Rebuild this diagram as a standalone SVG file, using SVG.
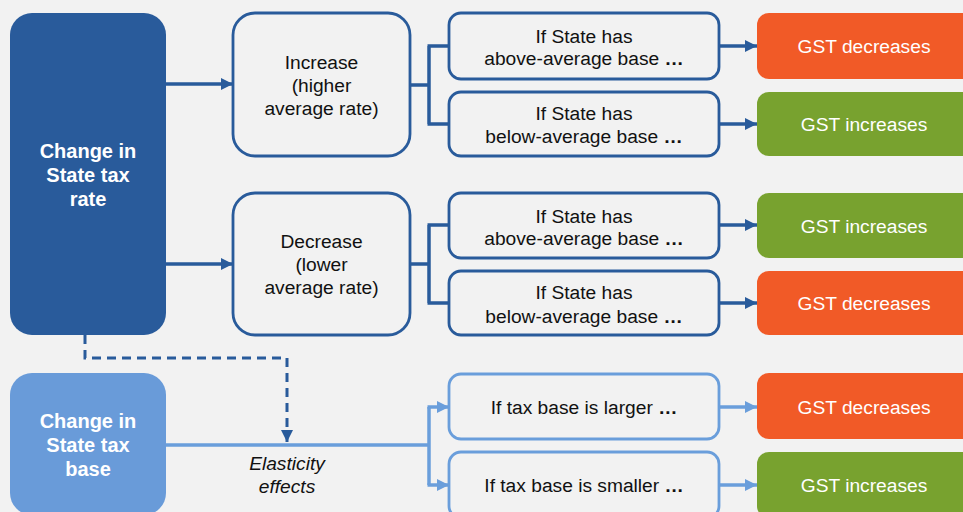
<svg xmlns="http://www.w3.org/2000/svg" width="963" height="512" viewBox="0 0 963 512">
<defs>
<style>
text{font-family:"Liberation Sans",Arial,sans-serif;font-size:19.2px;text-anchor:middle}
.head{fill:#fff;font-weight:bold;font-size:20px}
.dk{fill:#111}
.wt{fill:#fff}
.it{font-style:italic;fill:#111}
.dots{font-weight:bold}
.darkbox{fill:#f2f2f2;stroke:#295b9b;stroke-width:2.8}
.lightbox{fill:#f2f2f2;stroke:#6a9edb;stroke-width:2.8}
.dline{fill:none;stroke:#295b9b;stroke-width:3.5}
.lline{fill:none;stroke:#6a9edb;stroke-width:3.5}
.orange{fill:#f15a27}
.green{fill:#78a22f}
</style>
<marker id="ad" markerUnits="userSpaceOnUse" markerWidth="13" markerHeight="13" refX="12" refY="6" orient="auto" viewBox="0 0 13 13">
<path d="M0,0 L12,6 L0,12 z" fill="#295b9b"/>
</marker>
<marker id="al" markerUnits="userSpaceOnUse" markerWidth="13" markerHeight="13" refX="12" refY="6" orient="auto" viewBox="0 0 13 13">
<path d="M0,0 L12,6 L0,12 z" fill="#6a9edb"/>
</marker>
</defs>
<rect width="963" height="512" fill="#f2f2f2"/>

<g id="connectors">
<path class="dline" d="M166,84 H233" marker-end="url(#ad)"/>
<path class="dline" d="M166,264 H233" marker-end="url(#ad)"/>
<path class="dline" d="M410,85 H429 M429,46 V124 M427.5,46 H449 M427.5,124 H449"/>
<path class="dline" d="M410,264 H429 M429,225 V303 M427.5,225 H449 M427.5,303 H449"/>
<path class="dline" d="M719,46 H757" marker-end="url(#ad)"/>
<path class="dline" d="M719,124 H757" marker-end="url(#ad)"/>
<path class="dline" d="M719,225 H757" marker-end="url(#ad)"/>
<path class="dline" d="M719,303 H757" marker-end="url(#ad)"/>
<path class="dline" d="M85,335 V358 H287 V442" stroke-dasharray="9,6" marker-end="url(#ad)" style="stroke-width:3"/>
<path class="lline" d="M166,445 H429 M429,407 V485"/>
<path class="lline" d="M427.5,407 H449" marker-end="url(#al)"/>
<path class="lline" d="M427.5,485 H449" marker-end="url(#al)"/>
<path class="lline" d="M719,407 H757" marker-end="url(#al)"/>
<path class="lline" d="M719,485 H757" marker-end="url(#al)"/>
<text class="it" x="287" y="470">Elasticity</text>
<text class="it" x="287" y="493">effects</text>
</g>

<g id="rate">
<rect x="10" y="13" width="156" height="322" rx="22" fill="#295b9b"/>
<text class="head" x="88" y="158">Change in</text>
<text class="head" x="88" y="182">State tax</text>
<text class="head" x="88" y="206">rate</text>
</g>

<g id="base">
<rect x="10" y="373" width="156" height="142" rx="22" fill="#699bd9"/>
<text class="head" x="88" y="428">Change in</text>
<text class="head" x="88" y="452">State tax</text>
<text class="head" x="88" y="476">base</text>
</g>

<g id="increase">
<rect class="darkbox" x="233" y="13" width="177" height="143" rx="22"/>
<text class="dk" x="321.5" y="69">Increase</text>
<text class="dk" x="321.5" y="92">(higher</text>
<text class="dk" x="321.5" y="115">average rate)</text>
</g>

<g id="decrease">
<rect class="darkbox" x="233" y="193" width="177" height="142" rx="22"/>
<text class="dk" x="321.5" y="248">Decrease</text>
<text class="dk" x="321.5" y="271">(lower</text>
<text class="dk" x="321.5" y="294">average rate)</text>
</g>

<g id="inc-above">
<rect class="darkbox" x="449" y="13" width="270" height="66" rx="12"/>
<text class="dk" x="584" y="43">If State has</text>
<text class="dk" x="584" y="65">above-average base <tspan class="dots">…</tspan></text>
</g>
<g id="inc-below">
<rect class="darkbox" x="449" y="92" width="270" height="64" rx="12"/>
<text class="dk" x="584" y="120">If State has</text>
<text class="dk" x="584" y="143">below-average base <tspan class="dots">…</tspan></text>
</g>
<g id="dec-above">
<rect class="darkbox" x="449" y="193" width="270" height="65" rx="12"/>
<text class="dk" x="584" y="223">If State has</text>
<text class="dk" x="584" y="245">above-average base <tspan class="dots">…</tspan></text>
</g>
<g id="dec-below">
<rect class="darkbox" x="449" y="271" width="270" height="64" rx="12"/>
<text class="dk" x="584" y="299">If State has</text>
<text class="dk" x="584" y="323">below-average base <tspan class="dots">…</tspan></text>
</g>
<g id="larger">
<rect class="lightbox" x="449" y="374" width="270" height="65" rx="12"/>
<text class="dk" x="584" y="414">If tax base is larger <tspan class="dots">…</tspan></text>
</g>
<g id="smaller">
<rect class="lightbox" x="449" y="452" width="270" height="66" rx="12"/>
<text class="dk" x="584" y="492">If tax base is smaller <tspan class="dots">…</tspan></text>
</g>

<g id="gst1">
<rect class="orange" x="757" y="13" width="220" height="66" rx="12"/>
<text class="wt" x="864" y="53">GST decreases</text>
</g>
<g id="gst2">
<rect class="green" x="757" y="92" width="220" height="64" rx="12"/>
<text class="wt" x="864" y="131">GST increases</text>
</g>
<g id="gst3">
<rect class="green" x="757" y="193" width="220" height="65" rx="12"/>
<text class="wt" x="864" y="233">GST increases</text>
</g>
<g id="gst4">
<rect class="orange" x="757" y="271" width="220" height="64" rx="12"/>
<text class="wt" x="864" y="310">GST decreases</text>
</g>
<g id="gst5">
<rect class="orange" x="757" y="373" width="220" height="66" rx="12"/>
<text class="wt" x="864" y="414">GST decreases</text>
</g>
<g id="gst6">
<rect class="green" x="757" y="452" width="220" height="66" rx="12"/>
<text class="wt" x="864" y="492">GST increases</text>
</g>
</svg>
